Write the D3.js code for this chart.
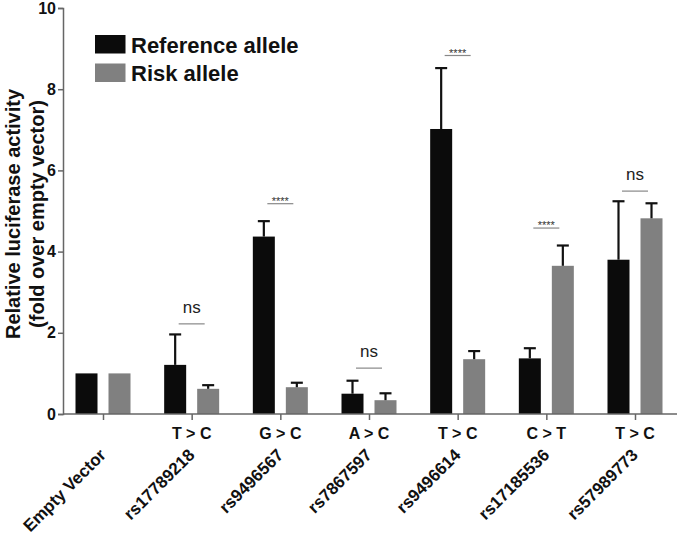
<!DOCTYPE html>
<html>
<head>
<meta charset="utf-8">
<script src="https://cdn.jsdelivr.net/npm/d3@7"></script>
<style>
body{margin:0;background:#fff;}
svg{display:block;font-family:"Liberation Sans",Arial,sans-serif;}
</style>
</head>
<body>
<svg id="c" width="677" height="537"></svg>
<script>
const groups = ["Empty Vector","rs17789218","rs9496567","rs7867597","rs9496614","rs17185536","rs57989773"];
const changes = ["","T > C","G > C","A > C","T > C","C > T","T > C"];
const refMean = [1.0, 1.21, 4.37, 0.50, 7.02, 1.37, 3.80];
const refErr  = [0, 0.75, 0.38, 0.32, 1.50, 0.25, 1.44];
const riskMean = [1.0, 0.62, 0.66, 0.34, 1.35, 3.65, 4.82];
const riskErr  = [0, 0.09, 0.11, 0.17, 0.20, 0.50, 0.37];
const sigLabel = [null, "ns", "****", "ns", "****", "****", "ns"];
const sigLevel = [null, 2.22, 5.18, 1.13, 8.83, 4.58, 5.49];
const yTicks = [0,2,4,6,8,10];
const seriesNames = ["Reference allele","Risk allele"];
const colors = ["#0b0b0b","#808080"];

const svg = d3.select("#c");
const y = d3.scaleLinear().domain([0,10]).range([414,8]);
const x = d3.scalePoint().domain(groups).range([103,635]);
const sub = d3.scaleBand().domain([0,1]).range([-27.5,27.5]).paddingInner(1/3).paddingOuter(0);
const bw = sub.bandwidth();
const axisColor = "#666";

// bars
const series = [refMean, riskMean];
const errs = [refErr, riskErr];
series.forEach((vals, s) => {
  groups.forEach((g, i) => {
    const cx = x(g) + sub(s);
    svg.append("rect").attr("x", cx).attr("y", y(vals[i]))
      .attr("width", bw).attr("height", y(0) - y(vals[i])).attr("fill", colors[s]);
    if (errs[s][i] > 0) {
      const mx = cx + bw/2, top = y(vals[i] + errs[s][i]);
      svg.append("line").attr("x1", mx).attr("x2", mx).attr("y1", y(vals[i])).attr("y2", top)
        .attr("stroke", "#111").attr("stroke-width", 2.2);
      svg.append("line").attr("x1", mx-6).attr("x2", mx+6).attr("y1", top).attr("y2", top)
        .attr("stroke", "#111").attr("stroke-width", 2.2);
    }
  });
});

// y axis
const yAxis = svg.append("g").attr("transform","translate(63,0)")
  .call(d3.axisLeft(y).tickValues(yTicks).tickSize(5).tickPadding(2).tickFormat(d3.format("d")));
yAxis.select(".domain").attr("stroke", axisColor).attr("stroke-width",1.5);
yAxis.selectAll(".tick line").attr("stroke", axisColor).attr("stroke-width",1.5);
yAxis.selectAll(".tick text").attr("font-size",16).attr("font-weight","bold").attr("fill","#111")
  .attr("font-family","Liberation Sans, Arial, sans-serif");

// x axis
const xAxis = svg.append("g").attr("transform","translate(0,414)")
  .call(d3.axisBottom(x).tickSize(6).tickSizeOuter(0).tickFormat(""));
xAxis.select(".domain").attr("stroke", axisColor).attr("stroke-width",1.5).attr("d","M63,0H677");
xAxis.selectAll(".tick line").attr("stroke", axisColor).attr("stroke-width",1.5);

// allele change labels
groups.forEach((g,i) => {
  if (changes[i]) svg.append("text").attr("x", x(g)).attr("y", 439).attr("text-anchor","middle")
    .attr("font-size",16).attr("font-weight","bold").attr("fill","#111").text(changes[i]);
  svg.append("text").attr("transform", `translate(${x(g)+4},456) rotate(-45)`)
    .attr("text-anchor","end").attr("font-size",17).attr("font-weight","bold").attr("fill","#111").text(g);
});

// significance
groups.forEach((g,i) => {
  if (!sigLabel[i]) return;
  const cx = x(g), ly = y(sigLevel[i]);
  svg.append("line").attr("x1", cx-13).attr("x2", cx+13).attr("y1", ly).attr("y2", ly)
    .attr("stroke","#888").attr("stroke-width",1.2);
  if (sigLabel[i] === "ns") {
    svg.append("text").attr("x", cx).attr("y", ly-11).attr("text-anchor","middle")
      .attr("font-size",17).attr("fill","#222").attr("font-family","Liberation Sans, Arial, sans-serif").text("ns");
  } else {
    svg.append("text").attr("x", cx).attr("y", ly+1).attr("text-anchor","middle")
      .attr("font-size",11).attr("fill","#333").text("****");
  }
});

// legend
seriesNames.forEach((n,s) => {
  svg.append("rect").attr("x",95).attr("y",35 + s*28.5).attr("width",30.5).attr("height",18.5).attr("fill",colors[s]);
  svg.append("text").attr("x",131).attr("y",52.5 + s*28.5).attr("font-size",22).attr("font-weight","bold")
    .attr("fill","#111").text(n);
});

// y title
const yt = svg.append("text").attr("transform","translate(0,214) rotate(-90)").attr("text-anchor","middle")
  .attr("font-size",20).attr("font-weight","bold").attr("fill","#111");
yt.append("tspan").attr("x",0).attr("y",20).text("Relative luciferase activity");
yt.append("tspan").attr("x",0).attr("y",43.5).text("(fold over empty vector)");
</script>
</body>
</html>
